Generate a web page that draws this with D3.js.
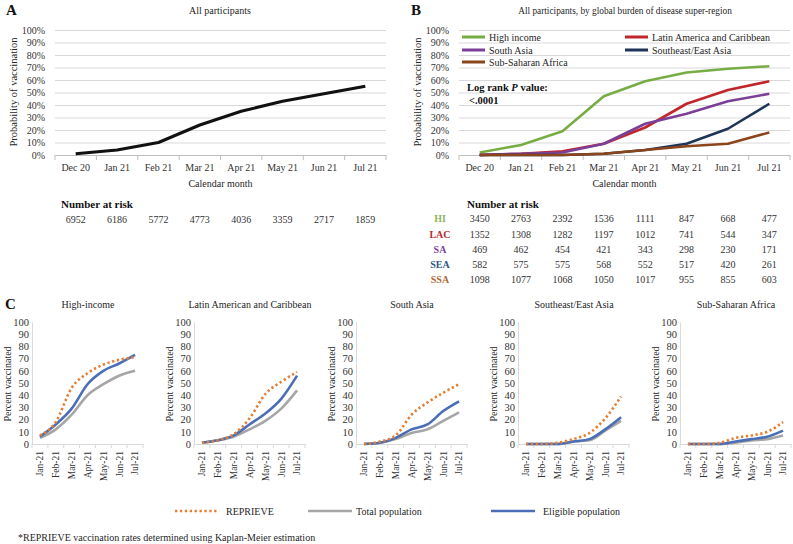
<!DOCTYPE html>
<html><head><meta charset="utf-8">
<script src="https://cdn.jsdelivr.net/npm/d3@7"></script>
<style>
body{margin:0;background:#fff;}
</style></head><body>
<svg id="chart" width="793" height="544" font-family="Liberation Serif, Times New Roman, serif" fill="#262626"></svg>
<script>
// ---------- Data ----------
const months = ["Dec 20","Jan 21","Feb 21","Mar 21","Apr 21","May 21","Jun 21","Jul 21"];
const pctTicks = [0,0.1,0.2,0.3,0.4,0.5,0.6,0.7,0.8,0.9,1];
const allProb = [0.01,0.04,0.10,0.24,0.35,0.43,0.49,0.55];
const atRiskAll = [6952,6186,5772,4773,4036,3359,2717,1859];

const regionNames = ["High income","Latin America and Caribbean","South Asia","Southeast/East Asia","Sub-Saharan Africa"];
const regionAbbr = ["HI","LAC","SA","SEA","SSA"];
const regionColors = ["#78ad45","#c0272d","#7c3f97","#1f3558","#8b451b"];
const abbrColors = ["#8bb55b","#b62a2f","#7f3f98","#2d5585","#b06a36"];
const probHI  = [0.02,0.08,0.19,0.47,0.59,0.66,0.69,0.71];
const probLAC = [0,0.01,0.03,0.09,0.22,0.41,0.52,0.59];
const probSA  = [0,0.01,0.02,0.09,0.25,0.33,0.43,0.49];
const probSEA = [0,0,0,0.01,0.04,0.09,0.21,0.41];
const probSSA = [0,0,0,0.01,0.04,0.07,0.09,0.18];
const riskHI  = [3450,2763,2392,1536,1111,847,668,477];
const riskLAC = [1352,1308,1282,1197,1012,741,544,347];
const riskSA  = [469,462,454,421,343,298,230,171];
const riskSEA = [582,575,575,568,552,517,420,261];
const riskSSA = [1098,1077,1068,1050,1017,955,855,603];

const cMonths = ["Jan-21","Feb-21","Mar-21","Apr-21","May-21","Jun-21","Jul-21"];
const cTitles = ["High-income","Latin American and Caribbean","South Asia","Southeast/East Asia","Sub-Saharan Africa"];
const cTicks = [0,10,20,30,40,50,60,70,80,90,100];
const reprieveHI  = [7,18,46,58,65,69,71];
const totalHI     = [5,12,24,40,49,56,60];
const eligibleHI  = [6,16,29,49,60,66,73];
const reprieveLAC = [1,3,8,21,41,51,59];
const totalLAC    = [1,3,6,12,19,29,44];
const eligibleLAC = [1,3,7,16,25,37,56];
const reprieveSA  = [0,2,7,24,34,42,49];
const totalSA     = [0,1,4,9,12,19,26];
const eligibleSA  = [0,1,5,12,16,27,35];
const reprieveSEA = [0,0,1,4,9,21,39];
const totalSEA    = [0,0,0,2,3,11,19];
const eligibleSEA = [0,0,0,2,4,12,22];
const reprieveSSA = [0,0,1,5,7,10,18];
const totalSSA    = [0,0,0,1,3,4,7];
const eligibleSSA = [0,0,0,2,4,6,11];
const seriesNames = ["REPRIEVE","Total population","Eligible population"];
const seriesColors = ["#e57e32","#a6a6a6","#4a6fb6"];

// ---------- Drawing ----------
const FONT = "Liberation Serif, Times New Roman, serif";
const svg = d3.select("#chart");
svg.append("rect").attr("width",793).attr("height",544).attr("fill","#fff");

function kmPanel(x0, x1, yTitleX) {
  const g = svg.append("g");
  const x = d3.scaleBand().domain(months).range([x0, x1]);
  const y = d3.scaleLinear().domain([0,1]).range([155,30]);
  const ya = g.append("g").attr("transform",`translate(${x0},0)`)
    .call(d3.axisLeft(y).tickValues(pctTicks).tickFormat(d3.format(".0%"))
      .tickSize(-(x1-x0)).tickPadding(10));
  ya.select(".domain").remove();
  ya.selectAll("line").attr("stroke","#d9d9d9");
  ya.selectAll("text").attr("font-size",10).attr("font-family",FONT).attr("fill","#333");
  const xa = g.append("g").attr("transform","translate(0,155)")
    .call(d3.axisBottom(x).tickSize(0).tickPadding(9));
  xa.select(".domain").attr("stroke","#bfbfbf");
  xa.selectAll("text").attr("font-size",10).attr("font-family",FONT).attr("fill","#333");
  const bounds = months.map(m => x(m)).concat([x1]);
  g.selectAll(".bt").data(bounds).join("line")
    .attr("x1",d=>d).attr("x2",d=>d).attr("y1",155).attr("y2",160).attr("stroke","#bfbfbf");
  g.append("text").attr("transform",`translate(${yTitleX},92) rotate(-90)`)
    .attr("text-anchor","middle").attr("dy","0.35em").attr("font-size",10.5).text("Probability of vaccination");
  g.append("text").attr("x",(x0+x1)/2).attr("y",187).attr("text-anchor","middle")
    .attr("font-size",10).text("Calendar month");
  return {g,x,y};
}

// Panel A
const A = kmPanel(55, 386, 13);
svg.append("text").attr("x",6).attr("y",15).attr("font-size",15).attr("font-weight","bold").attr("fill","#111").text("A");
svg.append("text").attr("x",220).attr("y",14).attr("text-anchor","middle").attr("font-size",10).text("All participants");
const lineA = d3.line().x((d,i)=>A.x(months[i])+A.x.bandwidth()/2).y(d=>A.y(d));
A.g.append("path").attr("d",lineA(allProb)).attr("fill","none").attr("stroke","#111")
  .attr("stroke-width",3).attr("stroke-linejoin","round");
svg.append("text").attr("x",61).attr("y",208).attr("font-size",11).attr("font-weight","bold").attr("fill","#111").text("Number at risk");
svg.selectAll(".riskA").data(atRiskAll).join("text")
  .attr("x",(d,i)=>A.x(months[i])+A.x.bandwidth()/2).attr("y",223)
  .attr("text-anchor","middle").attr("font-size",10).attr("fill","#333").text(d=>d);

// Panel B
const B = kmPanel(459, 790, 417);
svg.append("text").attr("x",411).attr("y",15).attr("font-size",15).attr("font-weight","bold").attr("fill","#111").text("B");
svg.append("text").attr("x",625).attr("y",14).attr("text-anchor","middle").attr("font-size",9.3)
  .text("All participants, by global burden of disease super-region");
const probs = [probHI, probLAC, probSA, probSEA, probSSA];
const risks = [riskHI, riskLAC, riskSA, riskSEA, riskSSA];
const lineB = d3.line().x((d,i)=>B.x(months[i])+B.x.bandwidth()/2).y(d=>B.y(d));
probs.forEach((p,k)=>{
  B.g.append("path").attr("d",lineB(p)).attr("fill","none").attr("stroke",regionColors[k])
    .attr("stroke-width",2.6).attr("stroke-linejoin","round");
});
// legend B
const legPos = [[462,37],[625,37],[462,50],[625,50],[462,62]];
regionNames.forEach((n,k)=>{
  const [lx,ly] = legPos[k];
  svg.append("line").attr("x1",lx).attr("x2",lx+23).attr("y1",ly).attr("y2",ly)
    .attr("stroke",regionColors[k]).attr("stroke-width",3);
  svg.append("text").attr("x",lx+27).attr("y",ly+3.5).attr("font-size",10).text(n);
});
const lr = svg.append("text").attr("x",467).attr("y",91).attr("font-size",10.5).attr("font-weight","bold").attr("fill","#111");
lr.append("tspan").text("Log rank ");
lr.append("tspan").attr("font-style","italic").text("P");
lr.append("tspan").text(" value:");
svg.append("text").attr("x",469).attr("y",104).attr("font-size",10.5).attr("font-weight","bold").attr("fill","#111").text("<.0001");
// risk table B
svg.append("text").attr("x",467).attr("y",208).attr("font-size",11).attr("font-weight","bold").attr("fill","#111").text("Number at risk");
const rowY = [218,234,249,264,279];
regionAbbr.forEach((a,k)=>{
  svg.append("text").attr("x",440).attr("y",rowY[k]+3.5).attr("text-anchor","middle")
    .attr("font-size",10).attr("font-weight","bold").attr("fill",abbrColors[k]).text(a);
  svg.selectAll(".rb"+k).data(risks[k]).join("text")
    .attr("x",(d,i)=>B.x(months[i])+B.x.bandwidth()/2).attr("y",rowY[k]+3.5)
    .attr("text-anchor","middle").attr("font-size",10).attr("fill","#333").text(d=>d);
});

// Panel C
svg.append("text").attr("x",5).attr("y",309).attr("font-size",15).attr("font-weight","bold").attr("fill","#111").text("C");
const cSeries = [
  [reprieveHI,totalHI,eligibleHI],
  [reprieveLAC,totalLAC,eligibleLAC],
  [reprieveSA,totalSA,eligibleSA],
  [reprieveSEA,totalSEA,eligibleSEA],
  [reprieveSSA,totalSSA,eligibleSSA]
];
const yC = d3.scaleLinear().domain([0,100]).range([444,322]);
cTitles.forEach((t,i)=>{
  const x0 = 32 + i*162, w = 111;
  const g = svg.append("g");
  const x = d3.scaleBand().domain(cMonths).range([x0,x0+w]);
  const ya = g.append("g").attr("transform",`translate(${x0},0)`)
    .call(d3.axisLeft(yC).tickValues(cTicks).tickSize(0).tickPadding(3));
  ya.select(".domain").attr("stroke","#d9d9d9");
  ya.selectAll("text").attr("font-size",10.5).attr("font-family",FONT).attr("fill","#333");
  const xa = g.append("g").attr("transform","translate(0,444)")
    .call(d3.axisBottom(x).tickSize(0).tickFormat(""));
  xa.select(".domain").attr("stroke","#d9d9d9");
  const bounds = cMonths.map(m=>x(m)).concat([x0+w]);
  g.selectAll(".bt").data(bounds).join("line")
    .attr("x1",d=>d).attr("x2",d=>d).attr("y1",444).attr("y2",448).attr("stroke","#d9d9d9");
  g.selectAll(".xl").data(cMonths).join("text")
    .attr("transform",d=>`translate(${x(d)+x.bandwidth()/2},451) rotate(-90)`)
    .attr("text-anchor","end").attr("dy","0.35em").attr("font-size",9.5).attr("fill","#333").text(d=>d);
  g.append("text").attr("transform",`translate(${x0-25},384) rotate(-90)`)
    .attr("text-anchor","middle").attr("dy","0.35em").attr("font-size",10).text("Percent vaccinated");
  g.append("text").attr("x",x0+56).attr("y",308).attr("text-anchor","middle").attr("font-size",10).text(t);
  const line = d3.line().curve(d3.curveMonotoneX)
    .x((d,j)=>x(cMonths[j])+x.bandwidth()/2).y(d=>yC(d));
  [1,2,0].forEach(s=>{
    const p = g.append("path").attr("d",line(cSeries[i][s])).attr("fill","none")
      .attr("stroke",seriesColors[s]).attr("stroke-width",2.6);
    if (s===0) p.attr("stroke-dasharray","2.3,2.6");
  });
});

// Legend C
const legC = [[175,226],[308,356],[491,543]];
seriesNames.forEach((n,s)=>{
  const [lx,tx] = legC[s];
  const l = svg.append("line").attr("x1",lx).attr("x2",lx+44).attr("y1",511).attr("y2",511)
    .attr("stroke",seriesColors[s]).attr("stroke-width",2.6);
  if (s===0) l.attr("stroke-dasharray","2.3,2.6");
  svg.append("text").attr("x",tx).attr("y",514.5).attr("font-size",10).text(n);
});
svg.append("text").attr("x",18).attr("y",541).attr("font-size",10)
  .text("*REPRIEVE vaccination rates determined using Kaplan-Meier estimation");
</script>
</body></html>
